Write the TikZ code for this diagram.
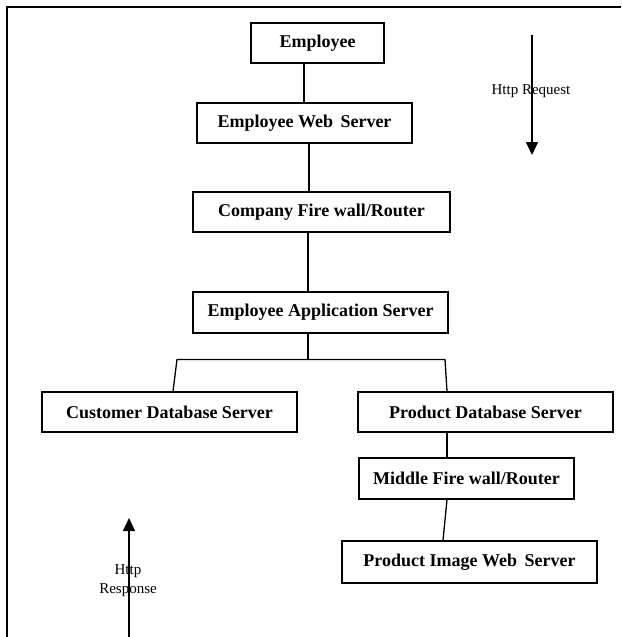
\documentclass[tikz,border=0pt]{standalone}
\usepackage{fontspec}
\setmainfont{Liberation Serif}
\usetikzlibrary{arrows.meta}
\begin{document}
\begin{tikzpicture}[x=1pt, y=-1pt,
        server/.style={draw, line width=1.4pt, minimum height=40pt, inner sep=0pt, font=\bfseries\fontsize{18}{20}\selectfont},
        label/.style={font=\fontsize{15}{19}\selectfont, align=center, inner sep=0pt},
        link/.style={line width=1.3pt},
        flow/.style={line width=1.3pt, -{Triangle[width=12pt, length=13pt]}}]
        \useasboundingbox (0,0) rectangle (621,637);
        \draw[line width=2pt] (7,637) -- (7,7) -- (621,7);

        \node[server, minimum width=133pt] (emp) at (317.5,43) {Employee};
        \node[server, minimum width=215pt] (web) at (304.5,123) {Employee Web\, Server};
        \node[server, minimum width=257pt] (cfw) at (321.5,212) {Company Fire wall/Router};
        \node[server, minimum width=255pt, minimum height=41pt] (app) at (320.5,312.5) {Employee Application Server};
        \node[server, minimum width=255pt] (cust) at (169.5,412) {Customer Database Server};
        \node[server, minimum width=255pt] (pdb) at (485.5,412) {Product Database Server};
        \node[server, minimum width=215pt, minimum height=41pt] (mfw) at (466.5,478.5) {Middle Fire wall/Router};
        \node[server, minimum width=255pt, minimum height=42pt] (img) at (469.5,562) {Product Image Web\, Server};

        \coordinate (brl) at (177,359.5);
        \coordinate (brm) at (308,359.5);
        \coordinate (brr) at (445,359.5);

        \draw[link] ([xshift=-13.5pt]emp.south) -- ([xshift=-0.5pt]web.north);
        \draw[link] ([xshift=4.5pt]web.south) -- ([xshift=4.5pt]web.south |- cfw.north);
        \draw[link] ([xshift=-13.5pt]cfw.south) -- ([xshift=-13.5pt]cfw.south |- app.north);
        \draw[link] ([xshift=-12.5pt]app.south) -- (brm);
        \draw[link] ([xshift=3.5pt]cust.north) -- (brl) -- (brr) -- ([xshift=-38.5pt]pdb.north);
        \draw[link] ([xshift=-38.5pt]pdb.south) -- ([xshift=-19.5pt]mfw.north);
        \draw[link] ([xshift=-19.5pt]mfw.south) -- ([xshift=-26.5pt]img.north);

        % http arrows
        \coordinate (reqtop) at (532,35);
        \coordinate (reqend) at (532,155);
        \draw[flow] (reqtop) -- (reqend);
        \node[label] (req) at (531,91) {Http Request};

        \coordinate (resbot) at (129,637);
        \coordinate (restop) at (129,518);
        \draw[flow] (resbot) -- (restop);
        \node[label] (res) at (128,581) {Http\\Response};
\end{tikzpicture}
\end{document}
